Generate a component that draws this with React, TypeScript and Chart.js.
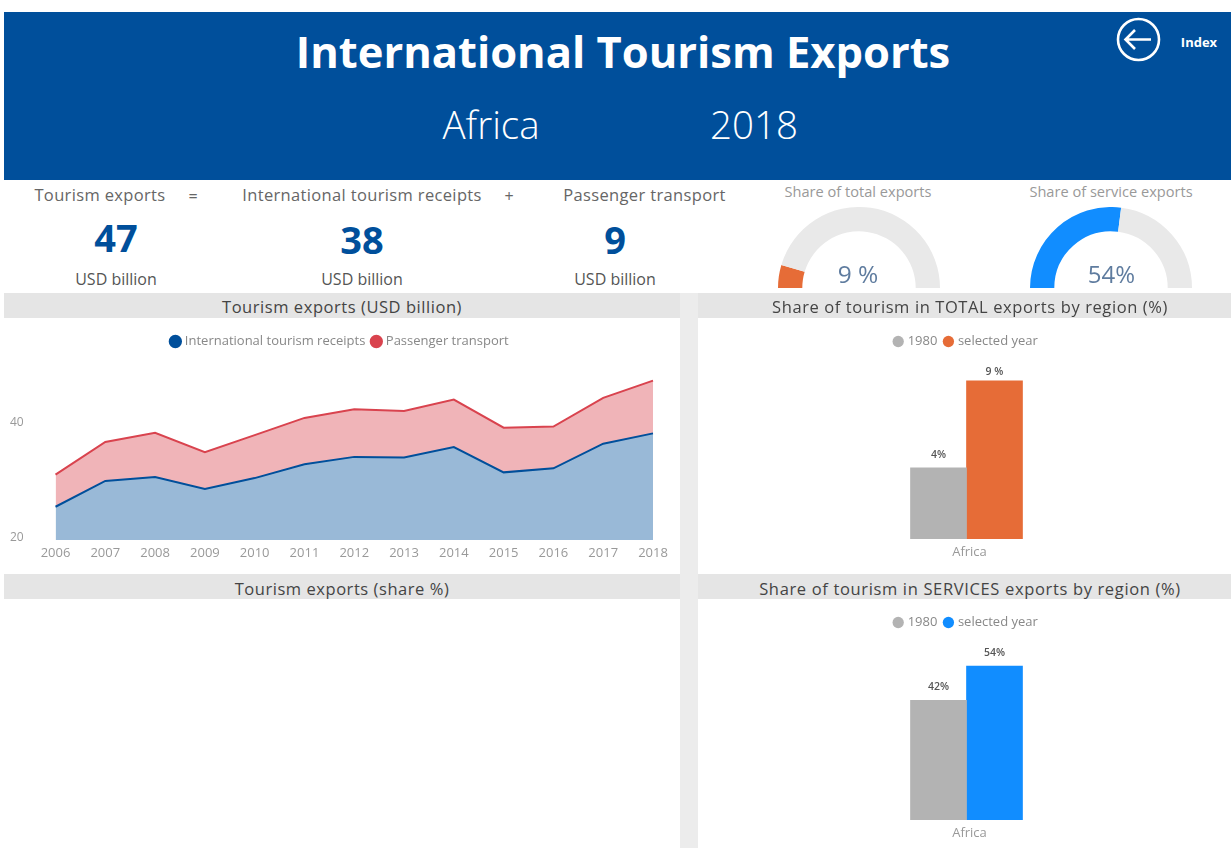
import React, { useEffect, useRef } from "react";
import { Chart, registerables } from "chart.js";

Chart.register(...registerables);

const FONT = '"Open Sans", "Noto Sans", sans-serif';
const years = ["2006","2007","2008","2009","2010","2011","2012","2013","2014","2015","2016","2017","2018"];
const receipts = [25.3,29.8,30.5,28.4,30.3,32.7,34.0,33.9,35.7,31.3,32.0,36.3,38.1];
const passenger = [5.6,6.8,7.7,6.4,7.5,8.1,8.3,8.1,8.3,7.8,7.3,8.0,9.2];
const areaTicks = [20, 40];
const region = ["Africa"];
const total1980 = [4.05];
const totalSelected = [9];
const totalLabels = ["4%", "9 %"];
const services1980 = [42];
const servicesSelected = [54];
const servicesLabels = ["42%", "54%"];
const gaugeTotal = [9.2, 90.8];
const gaugeServices = [54, 46];

const BLUE = "#004F9B";

const barLabels = (labels: string[]) => ({
  id: "barLabels",
  afterDatasetsDraw(chart: any) {
    const { ctx } = chart;
    ctx.save();
    ctx.font = `600 10.5px ${FONT}`;
    ctx.fillStyle = "#555";
    ctx.textAlign = "center";
    ctx.textBaseline = "bottom";
    chart.data.datasets.forEach((_: any, i: number) => {
      const el = chart.getDatasetMeta(i).data[0];
      ctx.fillText(labels[i], el.x, Math.max(el.y - 8, 59));
    });
    ctx.restore();
  },
});

function useChart(make: (c: HTMLCanvasElement) => Chart) {
  const ref = useRef<HTMLCanvasElement>(null);
  useEffect(() => {
    const c = make(ref.current!);
    return () => c.destroy();
  }, []);
  return ref;
}

const legendOpts = {
  position: "top" as const,
  labels: {
    usePointStyle: true, pointStyle: "circle", boxWidth: 6, boxHeight: 8, padding: 8,
    color: "#888", font: { family: FONT, size: 13 },
  },
};

function Box({ x, y, w, h, children }: any) {
  return <div style={{ position: "absolute", left: x, top: y, width: w, height: h }}>{children}</div>;
}

function AreaChart() {
  const ref = useChart((c) => new Chart(c, {
    type: "line",
    data: {
      labels: years,
      datasets: [
        { label: "International tourism receipts", data: receipts, borderColor: BLUE, backgroundColor: "rgba(0,79,155,0.4)", pointBackgroundColor: BLUE, borderWidth: 2, pointRadius: 0, fill: "origin", tension: 0 },
        { label: "Passenger transport", data: passenger, borderColor: "#D9434E", backgroundColor: "rgba(217,67,78,0.4)", pointBackgroundColor: "#D9434E", borderWidth: 2, pointRadius: 0, fill: "-1", tension: 0 },
      ],
    },
    options: {
      animation: false, responsive: false,
      layout: { padding: { top: 9, right: 27, left: 24 } },
      plugins: { legend: legendOpts, tooltip: { enabled: false } },
      scales: {
        x: {
          stacked: true, offset: false, grid: { display: false, drawTicks: false }, border: { display: false },
          ticks: { color: "#999", font: { family: FONT, size: 13 }, padding: 5, maxRotation: 0, autoSkip: false },
          afterFit: (s: any) => { s.height = 34; },
        },
        y: {
          stacked: true, min: 19.5, max: 51.25, grid: { display: false, drawTicks: false }, border: { display: false },
          ticks: { color: "#999", font: { family: FONT, size: 12 }, mirror: true, padding: -45.5 },
          afterBuildTicks: (s: any) => { s.ticks = areaTicks.map((value) => ({ value })); },
          afterFit: (s: any) => { s.width = 27.5; s.paddingBottom = 0; s.paddingTop = 0; },
        },
      },
    },
  } as any));
  return <canvas ref={ref} width={676} height={256} style={{ display: "block" }} />;
}

function BarChart({ base, sel, color, labels, max, h, xh }: any) {
  const ref = useChart((c) => new Chart(c, {
    type: "bar",
    data: {
      labels: region,
      datasets: [
        { label: "1980", data: base, backgroundColor: "#B3B3B3", barThickness: 56, pointStyle: "circle" },
        { label: "selected year", data: sel, backgroundColor: color, barThickness: 56, pointStyle: "circle" },
      ],
    },
    options: {
      animation: false, responsive: false,
      layout: { padding: { top: 9, left: 4 } },
      plugins: { legend: legendOpts, tooltip: { enabled: false } },
      scales: {
        x: {
          grid: { display: false, drawTicks: false }, border: { display: false },
          ticks: { color: "#999", font: { family: FONT, size: 13 }, padding: 5, labelOffset: 3 },
          afterFit: (s: any) => { s.height = xh; },
        },
        y: { display: false, min: 0, max },
      },
    },
    plugins: [barLabels(labels)],
  } as any));
  return <canvas ref={ref} width={533} height={h} style={{ display: "block" }} />;
}

function Gauge({ data, color }: any) {
  const ref = useChart((c) => new Chart(c, {
    type: "doughnut",
    data: { labels: ["share", "rest"], datasets: [{ data, backgroundColor: [color, "#E9E9E9"], borderWidth: 0 }] },
    options: {
      animation: false, responsive: false, rotation: -90, circumference: 180, cutout: "70%",
      plugins: { legend: { display: false }, tooltip: { enabled: false } },
    },
  } as any));
  return <canvas ref={ref} width={162} height={81} style={{ display: "block" }} />;
}

function T({ x, y, size, color, weight, ls, children }: any) {
  return (
    <div style={{ position: "absolute", left: x, top: y, transform: "translate(-50%,-50%)", whiteSpace: "pre", fontFamily: FONT, fontSize: size, color, fontWeight: weight ?? 400, lineHeight: 1, letterSpacing: ls ?? 0 }}>
      {children}
    </div>
  );
}

function Band({ x, y, w, h, bg }: any) {
  return <div style={{ position: "absolute", left: x, top: y, width: w, height: h, background: bg }} />;
}

export default function App() {
  useEffect(() => {
    document.body.style.margin = "0";
    document.body.style.background = "#fff";
  }, []);
  return (
    <div style={{ position: "relative", width: 1231, height: 848, overflow: "hidden", background: "#fff", filter: "blur(0.5px)" }}>
      <Band x={4} y={12} w={1227} h={168} bg={BLUE} />
      <T x={623} y={52} size={43.5} color="#fff" weight={700}>International Tourism Exports</T>
      <T x={491} y={124} size={38.5} color="#fff" weight={300}>Africa</T>
      <T x={754} y={124} size={38.5} color="#fff" weight={300}>2018</T>
      <svg style={{ position: "absolute", left: 1115, top: 16 }} width={48} height={48} viewBox="0 0 48 48" fill="none" stroke="#fff" strokeWidth={2.6}>
        <circle cx={23.5} cy={23.5} r={20.5} />
        <path d="M36 23.5H11M20 14l-9.5 9.5L20 33" />
      </svg>
      <T x={1199} y={42} size={13} color="#fff" weight={700}>Index</T>

      <T x={100} y={195} size={16.5} ls={0.35} color="#666">Tourism exports</T>
      <T x={193} y={196} size={16} color="#666">=</T>
      <T x={362} y={195} size={16.5} ls={0.35} color="#666">International tourism receipts</T>
      <T x={509} y={196} size={16} color="#666">+</T>
      <T x={644.5} y={195} size={16.5} ls={0.35} color="#666">Passenger transport</T>
      <T x={116} y={236.5} size={38} color={BLUE} weight={700}>47</T>
      <T x={362} y={238.5} size={38} color={BLUE} weight={700}>38</T>
      <T x={615} y={238.5} size={38} color={BLUE} weight={700}>9</T>
      <T x={116} y={279} size={16} color="#555">USD billion</T>
      <T x={362} y={279} size={16} color="#555">USD billion</T>
      <T x={615} y={279} size={16} color="#555">USD billion</T>

      <T x={858} y={191} size={14.6} color="#999">Share of total exports</T>
      <T x={1111} y={191} size={14.6} color="#999">Share of service exports</T>
      <Box x={777.5} y={207} w={162} h={81}><Gauge data={gaugeTotal} color="#E66C37" /></Box>
      <Box x={1030} y={207} w={162} h={81}><Gauge data={gaugeServices} color="#118DFF" /></Box>
      <T x={858} y={274} size={24.5} color="#5F7C9F">9 %</T>
      <T x={1111.5} y={274} size={24} color="#5F7C9F">54%</T>

      <Band x={4} y={293} w={676} h={25} bg="#E5E5E5" />
      <Band x={698} y={293} w={533} h={25} bg="#E5E5E5" />
      <Band x={4} y={574} w={676} h={25} bg="#E5E5E5" />
      <Band x={698} y={574} w={533} h={25} bg="#E5E5E5" />
      <Band x={680} y={293} w={18} h={555} bg="#ECECEC" />
      <T x={342} y={307} size={16.5} ls={0.55} color="#444">Tourism exports (USD billion)</T>
      <T x={970} y={307} size={16.5} ls={0.6} color="#444">Share of tourism in TOTAL exports by region (%)</T>
      <T x={342} y={589} size={16.5} ls={0.55} color="#444">Tourism exports (share %)</T>
      <T x={970} y={589} size={16.5} ls={0.65} color="#444">Share of tourism in SERVICES exports by region (%)</T>

      <Box x={4} y={318} w={676} h={256}><AreaChart /></Box>
      <Box x={698} y={318} w={533} h={256}>
        <BarChart base={total1980} sel={totalSelected} color="#E66C37" labels={totalLabels} max={10.3} h={256} xh={35} />
      </Box>
      <Box x={698} y={599} w={533} h={249}>
        <BarChart base={services1980} sel={servicesSelected} color="#118DFF" labels={servicesLabels} max={63.5} h={249} xh={28} />
      </Box>
    </div>
  );
}
